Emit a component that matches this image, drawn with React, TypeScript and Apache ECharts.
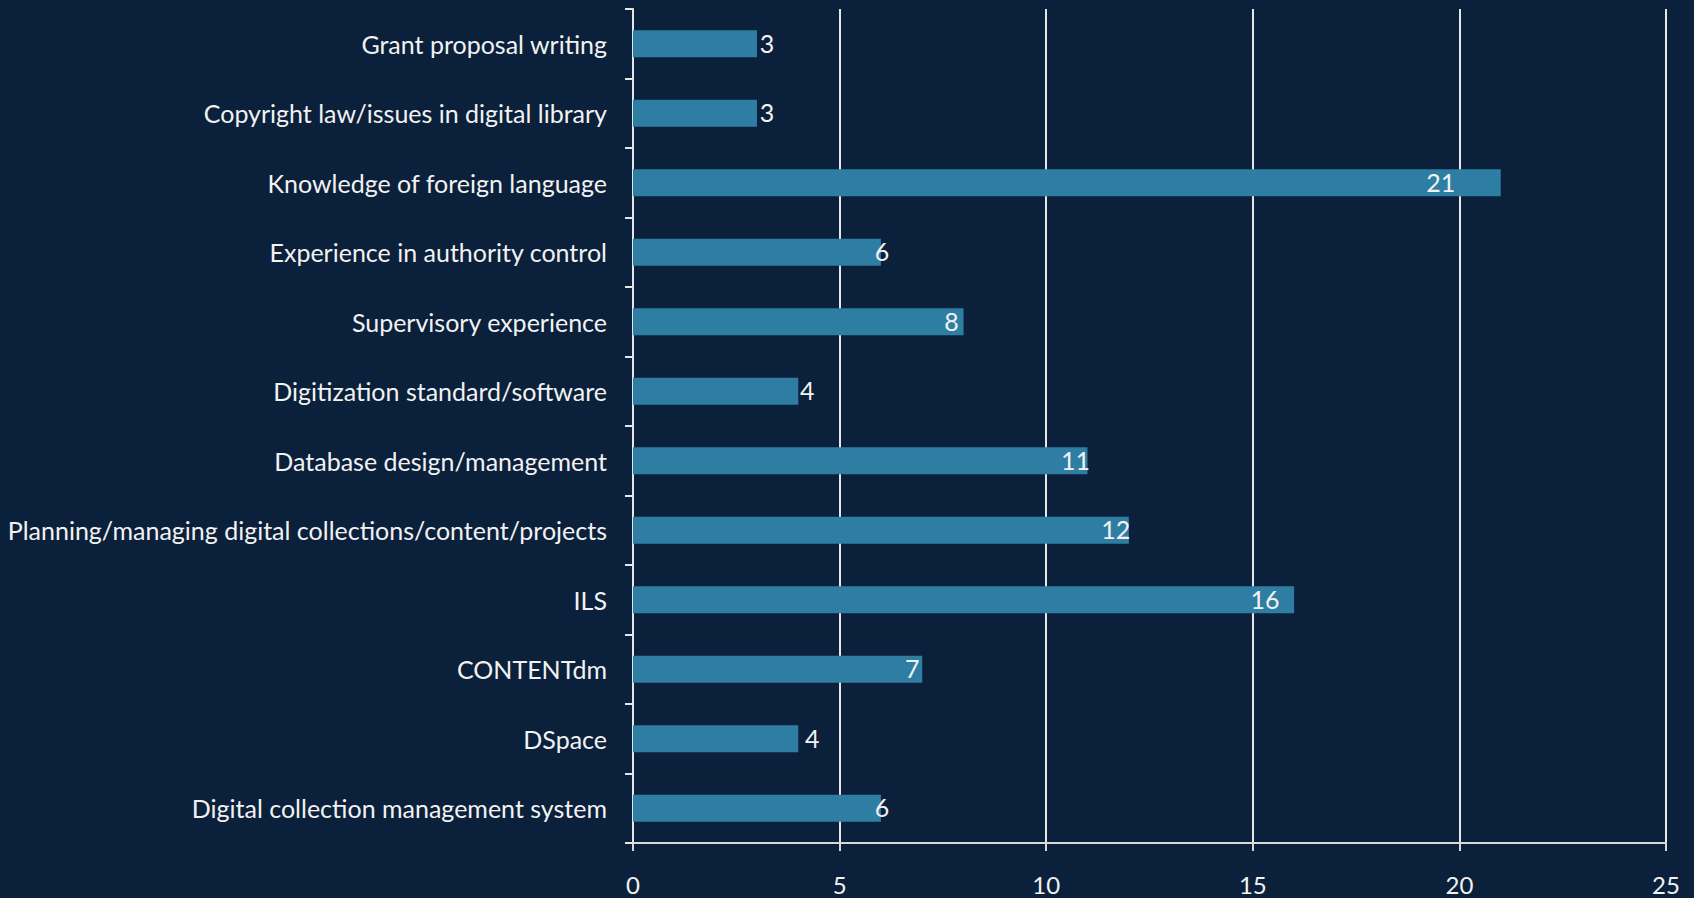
import React, { useEffect, useRef } from "react";
import * as echarts from "echarts";

const categories = [
  "Digital collection management system",
  "DSpace",
  "CONTENTdm",
  "ILS",
  "Planning/managing digital collections/content/projects",
  "Database design/management",
  "Digitization standard/software",
  "Supervisory experience",
  "Experience in authority control",
  "Knowledge of foreign language",
  "Copyright law/issues in digital library",
  "Grant proposal writing",
];
const values = [6, 4, 7, 16, 12, 11, 4, 8, 6, 21, 3, 3];
// horizontal nudge of each value label relative to its bar end (styling)
const labelShift = [1, 14, -10, -29, -13, -12, 9, -12, 1, -60, 10, 10];
const xTicks = [0, 5, 10, 15, 20, 25];

const BG = "#0B203A";
const BAR = "#2E7EA3";
const TXT = "#F2F2F2";
const FONT = "Lato";

export default function App() {
  const ref = useRef<HTMLDivElement>(null);
  useEffect(() => {
    if (!ref.current) return;
    const chart = echarts.init(ref.current, undefined, { renderer: "svg" });
    chart.setOption({
      animation: false,
      backgroundColor: BG,
      grid: { left: 633, right: 28, top: 9, bottom: 55, containLabel: false },
      xAxis: {
        type: "value",
        min: xTicks[0],
        max: xTicks[xTicks.length - 1],
        interval: 5,
        axisLine: { show: true, lineStyle: { color: "#D9D9D9", width: 2 } },
        axisTick: { show: true, length: 8, lineStyle: { color: "#D9D9D9", width: 2 } },
        splitLine: { show: true, lineStyle: { color: "#E6E6E6", width: 2 } },
        axisLabel: { color: TXT, fontSize: 24, fontFamily: FONT, margin: 29 },
      },
      yAxis: {
        type: "category",
        data: categories,
        axisLine: { show: true, lineStyle: { color: "#E6E6E6", width: 2 } },
        axisTick: { show: true, length: 8, lineStyle: { color: "#E6E6E6", width: 2 } },
        axisLabel: { color: TXT, fontSize: 25, fontFamily: FONT, margin: 26 },
        splitLine: { show: false },
      },
      series: [
        {
          type: "bar",
          barWidth: 27,
          itemStyle: { color: BAR },
          data: values.map((v, i) => ({
            value: v,
            label: {
              show: true,
              position: "right",
              distance: 0,
              align: "center",
              offset: [labelShift[i], -1],
              color: TXT,
              fontSize: 25,
              fontFamily: FONT,
            },
          })),
        },
      ],
    });
    return () => chart.dispose();
  }, []);
  return (
    <div
      ref={ref}
      style={{ width: 1694, height: 898, position: "absolute", left: 0, top: 0 }}
    />
  );
}
